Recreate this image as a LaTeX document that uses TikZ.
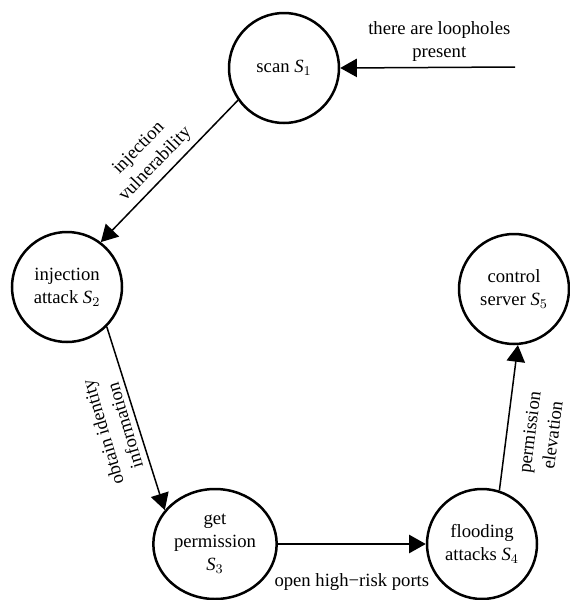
\documentclass[tikz,border=0pt]{standalone}
\usepackage{fontspec}
\setmainfont{Liberation Serif}
\usepackage{tikz}
\usetikzlibrary{arrows.meta,shapes.geometric}
\newcommand{\St}[1]{\textit{S}$_{#1}$}

\begin{document}
\begin{tikzpicture}[x=0.6pt,y=-0.6pt,font=\fontsize{11.2}{13.8}\selectfont]
\tikzstyle{State}=[draw, circle, line width=1.5pt, minimum size=66pt, inner sep=0pt, align=center];
\tikzstyle{Oval}=[draw, ellipse, line width=1.5pt, minimum width=74pt, minimum height=66pt, inner sep=0pt, align=center];
\tikzstyle{seq} = [line width=0.9pt, -{Triangle[length=10pt,width=11pt]}];
\useasboundingbox (0,0) rectangle (569,600);
\node [State] (v1) at (284,68) {scan \St{1}};
\node [State] (v2) at (67,287) {injection\\attack \St{2}};
\node [Oval] (v3) at (215,544) {get\\permission\\\St{3}};
\node [State] (v4) at (482,544) {flooding\\attacks \St{4}};
\node [State] (v5) at (514,289) {control\\server \St{5}};
\coordinate (v0) at (515,67);
\draw [seq] (v0) -- node[above, align=center, xshift=7pt] (l0) {there are loopholes\\present} (v1.east);
\draw [seq] (v1.215) -- node[sloped, above, align=center, pos=0.55, xshift=3pt] (l1) {injection\\vulnerability} (v2.53);
\draw [seq] (v2.-45) -- node[rotate=106.6, anchor=south, align=center, pos=0.52] (l2) {obtain identity\\information} (v3.146);
\draw [seq] (v3.east) -- node[below, yshift=-14pt] (l3) {open high−risk ports} (v4.west);
\draw [seq] (v4.72) -- node[sloped, below=6pt, align=center, pos=0.42] (l4) {permission\\elevation} (v5.-86);
\end{tikzpicture}
\end{document}
